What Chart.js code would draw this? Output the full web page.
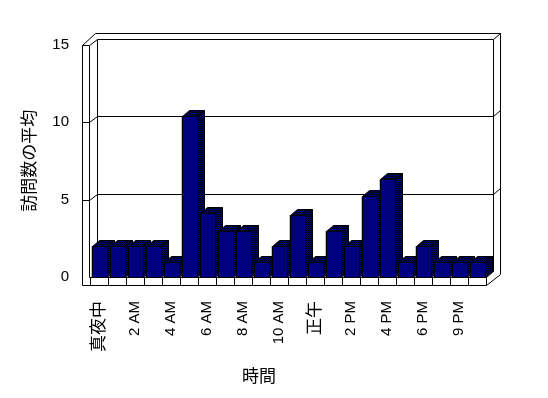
<!DOCTYPE html>
<html>
<head>
<meta charset="utf-8">
<script src="https://cdn.jsdelivr.net/npm/chart.js@4"></script>
<style>
  html, body { margin: 0; padding: 0; background: #fff; }
</style>
</head>
<body>
<canvas id="visitChart" width="548" height="398"></canvas>
<script>
// data
const hours = ['真夜中', '1 AM', '2 AM', '3 AM', '4 AM', '5 AM', '6 AM', '7 AM', '8 AM', '9 AM', '10 AM', '11 AM',
               '正午', '1 PM', '2 PM', '3 PM', '4 PM', '5 PM', '6 PM', '8 PM', '9 PM', '11 PM'];
const avgVisits = [2, 2, 2, 2, 1, 10.4, 4.1, 3, 3, 1, 2, 4, 1, 3, 2, 5.2, 6.3, 1, 2, 1, 1, 1];
const yTicks = [0, 5, 10, 15];
const yTitle = '訪問数の平均';
const xTitle = '時間';

const NAVY = '#000080';
const DX = 7, DY = -6;   // depth of the 3d look
const font = '"Liberation Sans", Arial, "Noto Sans CJK JP", sans-serif';
const cjk = /[\u3000-\u9fff]/;

// 2x2 dither of navy + black for the shaded faces
const dither = document.createElement('canvas');
dither.width = dither.height = 2;
(function () {
    const g = dither.getContext('2d');
    g.fillStyle = NAVY;
    g.fillRect(0, 0, 2, 2);
    g.fillStyle = '#000';
    g.fillRect(0, 0, 1, 1);
    g.fillRect(1, 1, 1, 1);
})();

const px = v => Math.round(v) + 0.5;

function seg(ctx, x1, y1, x2, y2) {
    ctx.beginPath();
    ctx.moveTo(px(x1), px(y1));
    ctx.lineTo(px(x2), px(y2));
    ctx.stroke();
}

function poly(ctx, pts, fill) {
    ctx.beginPath();
    pts.forEach((p, i) => i ? ctx.lineTo(px(p[0]), px(p[1])) : ctx.moveTo(px(p[0]), px(p[1])));
    ctx.closePath();
    ctx.fillStyle = fill;
    ctx.fill();
    ctx.stroke();
}

const boxPlugin = {
    id: 'box3d',
    beforeDatasetsDraw(chart) {
        const { ctx, chartArea: a, scales: { x, y } } = chart;
        const L = a.left, R = a.right, B = a.bottom, T = y.getPixelForValue(15);
        ctx.save();
        ctx.strokeStyle = '#000';
        ctx.lineWidth = 1;

        // walls + gridlines
        yTicks.filter(v => v > 0).forEach(v => {
            const yy = y.getPixelForValue(v);
            seg(ctx, L - 8, yy, L - 1, yy);
            seg(ctx, L - 1, yy, L + DX, yy + DY);
            seg(ctx, L + DX, yy + DY, R + DX, yy + DY);
            seg(ctx, R + DX, yy + DY, R + 2 * DX, yy + 2 * DY);
        });
        seg(ctx, L - 8, T, L + 5, T + 2 * DY);
        seg(ctx, L + 5, T + 2 * DY, R + 2 * DX, T + 2 * DY);
        seg(ctx, L - 8, T, L - 8, B + 8);
        seg(ctx, L - 1, T, L - 1, B);
        seg(ctx, L + DX, T + DY, L + DX, B + DY);
        seg(ctx, R + DX, T + DY, R + DX, B + DY);
        seg(ctx, R + 2 * DX, T + 2 * DY, R + 2 * DX, B - 3);

        // floor
        seg(ctx, L + DX, B + DY, R + DX, B + DY);
        seg(ctx, L - 1, B, R, B);
        seg(ctx, L - 8, B + 8, R, B + 8);
        for (let i = 0; i <= hours.length; i++) {
            const bx = x.getPixelForValue(i - 0.5);
            seg(ctx, bx, B, bx, B + 8);
        }
        seg(ctx, R, B, R + DX, B + DY);
        seg(ctx, R, B + 8, R + 2 * DX, B - 3);
        ctx.restore();
    },
    afterDatasetsDraw(chart) {
        const { ctx } = chart;
        const shade = ctx.createPattern(dither, 'repeat');
        ctx.save();
        ctx.strokeStyle = '#000';
        ctx.lineWidth = 1;
        chart.getDatasetMeta(0).data.forEach(bar => {
            const l = bar.x - bar.width / 2, r = bar.x + bar.width / 2;
            const t = bar.y, b = bar.base;
            poly(ctx, [[l, t], [l + DX, t + DY], [r + DX, t + DY], [r, t]], shade);
            poly(ctx, [[r, t], [r + DX, t + DY], [r + DX, b + DY], [r, b]], shade);
            poly(ctx, [[l, t], [r, t], [r, b], [l, b]], NAVY);
        });
        ctx.restore();
    },
    afterDraw(chart) {
        // x axis title sits left of the scale centre in the original
        const { ctx } = chart;
        ctx.save();
        ctx.fillStyle = '#000';
        ctx.font = '17px ' + font;
        ctx.textAlign = 'center';
        ctx.textBaseline = 'middle';
        ctx.fillText(xTitle, 259, 377);
        ctx.restore();
    }
};

new Chart(document.getElementById('visitChart').getContext('2d'), {
    type: 'bar',
    data: {
        labels: hours,
        datasets: [{
            data: avgVisits,
            backgroundColor: NAVY,
            borderColor: '#000',
            borderWidth: 1,
            categoryPercentage: 1,
            barPercentage: 15 / 18
        }]
    },
    options: {
        responsive: false,
        animation: false,
        events: [],
        layout: { padding: { top: 44.5, right: 62, left: 0, bottom: 0 } },
        plugins: { legend: { display: false }, tooltip: { enabled: false } },
        scales: {
            x: {
                grid: { display: false, drawTicks: false },
                border: { display: false },
                ticks: {
                    autoSkip: false,
                    minRotation: 90,
                    maxRotation: 90,
                    padding: 24,
                    color: '#000',
                    font: c => ({ family: font, size: cjk.test(hours[c.index] || '') ? 17 : 15 }),
                    callback: (v, i) => i % 2 === 0 ? hours[i] : ''
                },
                afterFit: s => { s.height = 121; }
            },
            y: {
                min: 0,
                max: 15,
                grid: { display: false, drawTicks: false },
                border: { display: false },
                ticks: {
                    stepSize: 5,
                    padding: 21,
                    color: '#000',
                    font: { family: font, size: 15 }
                },
                title: {
                    display: true,
                    text: yTitle,
                    color: '#000',
                    font: { family: font, size: 17 },
                    padding: { top: 20, bottom: 0 }
                },
                afterFit: s => { s.width = 90; }
            }
        }
    },
    plugins: [boxPlugin]
});
</script>
</body>
</html>
